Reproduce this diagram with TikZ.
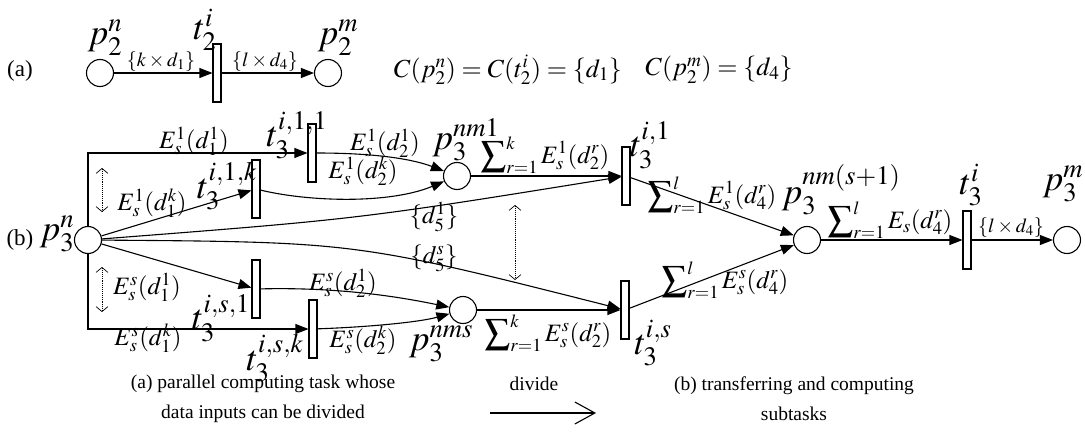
\documentclass[tikz,border=0pt]{standalone}
\usepackage{amsmath}
\usepackage{mathptmx}
\usepackage{fontspec}
\setmainfont{Liberation Serif}
\usetikzlibrary{arrows.meta,positioning,calc}

\begin{document}
\begin{tikzpicture}[x=1pt,y=-1pt,every path/.style={line width=1.1pt},
  place/.style={circle,draw,minimum size=27pt,inner sep=0pt},
  trans/.style={rectangle,draw,minimum width=8pt,minimum height=58pt,inner sep=0pt},
  flow/.style={-{Triangle[length=13pt,width=10pt]}},
  dblarrow/.style={densely dotted,line width=0.7pt,{Straight Barb[length=5pt,width=12pt]}-{Straight Barb[length=5pt,width=12pt]}},
  plabel/.style={font=\fontsize{36}{40}\selectfont,inner sep=0pt},
  elabel/.style={font=\fontsize{25}{28}\selectfont,inner sep=0pt},
  clabel/.style={font=\fontsize{26}{30}\selectfont,inner sep=0pt},
  blabel/.style={font=\fontsize{20}{22}\selectfont,inner sep=0pt},
  partlabel/.style={font=\fontsize{23}{26}\selectfont,inner sep=0pt},
  captext/.style={font=\fontsize{19.5}{30}\selectfont,inner sep=0pt,align=center}]
  \useasboundingbox (0,0) rectangle (1085,436);

  \node[partlabel] (la) at (20,71) {(a)};
  \node[place] (p2n) at (100,73) {};
  \node[place] (p2m) at (328,73) {};
  \foreach \n/\x/\y in {t2/217/73,t311/312/153,t31k/256/189,t3s1/256/289,t3sk/313/329,t31/626/176,t3s/625/310,t3i/967/240}
    \node[trans] (\n) at (\x,\y) {};
  \draw[flow] (p2n) -- (t2);
  \draw[flow] (t2) -- (p2m);
  \node[plabel] (lp2n) at (105,38) {$p_2^n$};
  \node[plabel] (lt2) at (205,30) {$t_2^i$};
  \node[plabel] (lp2m) at (338,38) {$p_2^m$};
  \node[blabel] (lk1) at (161,62) {$\{k\times d_1\}$};
  \node[blabel] (ll1) at (265,62) {$\{l\times d_4\}$};
  \node[clabel] (ca) at (508,70) {$C(p_2^n)=C(t_2^i)=\{d_1\}$};
  \node[clabel] (cb) at (719,70) {$C(p_2^m)=\{d_4\}$};

  \node[partlabel] (lb) at (20,240) {(b)};
  \node[place] (p3n) at (88,240) {};
  \node[place] (p3nm1) at (457,176) {};
  \node[place] (p3nms) at (463,310) {};
  \node[place] (p3nms1) at (807,240) {};
  \node[place] (p3m) at (1067,240) {};
  \node[plabel] (lp3n) at (57,234) {$p_3^n$};

  \draw[flow] (p3n.north) |- (t311);
  \draw[flow] (p3n.south) |- (t3sk);
  \draw[flow] (p3n) -- (t31k);
  \draw[flow] (p3n) -- (t3s1);
  \draw[flow] (p3n) .. controls (359,219) .. (t31);
  \draw[flow] (p3n) .. controls (356,242) .. (t3s);
  \draw[flow] (t311) .. controls (380,153) and (415,160) .. (p3nm1);
  \draw[flow] (t31k) .. controls (310,202) and (390,204) .. (p3nm1);
  \draw[flow] (t3s1) .. controls (340,287) and (400,297) .. (p3nms);
  \draw[flow] (t3sk) .. controls (370,327) and (420,322) .. (p3nms);
  \draw[flow] (p3nm1) -- (t31);
  \draw[flow] (p3nms) -- (t3s);
  \draw[flow] (t31) -- (p3nms1);
  \draw[flow] (t3s) -- (p3nms1);
  \draw[flow] (p3nms1) -- (t3i);
  \draw[flow] (t3i) -- (p3m);
  \foreach \n/\x/\ya/\yb in {u/102/168/212,m/515/205/280,d/102/267/312}
    {\coordinate (\n1) at (\x,\ya); \coordinate (\n2) at (\x,\yb);
     \draw[dblarrow] (\n1) -- (\n2);}

  \node[elabel] (le11) at (194,141) {$E_s^1(d_1^1)$};
  \node[plabel] (lt311) at (297,135) {$t_3^{i,1,1}$};
  \node[elabel] (le1k) at (152,203) {$E_s^1(d_1^k)$};
  \node[plabel] (lt31k) at (227,186) {$t_3^{i,1,k}$};
  \node[elabel] (le21) at (385,143) {$E_s^1(d_2^1)$};
  \node[elabel] (le2k) at (363,171) {$E_s^1(d_2^k)$};
  \node[plabel] (lp3nm1) at (466,140) {$p_3^{nm1}$};
  \node[elabel] (lsum1) at (545,155) {$\displaystyle\sum\nolimits_{r=1}^k E_s^1(d_2^r)$};
  \node[plabel] (lt31) at (650,145) {$t_3^{i,1}$};
  \node[elabel] (ld51) at (434,217) {$\{d_5^1\}$};
  \node[elabel] (ld5s) at (434,258) {$\{d_5^s\}$};
  \node[elabel] (les1) at (147,287) {$E_s^s(d_1^1)$};
  \node[plabel] (lt3s1) at (221,318) {$t_3^{i,s,1}$};
  \node[elabel] (lesk) at (148,338) {$E_s^s(d_1^k)$};
  \node[plabel] (lt3sk) at (275,358) {$t_3^{i,s,k}$};
  \node[elabel] (les21) at (343,283) {$E_s^s(d_2^1)$};
  \node[elabel] (les2k) at (363,340) {$E_s^s(d_2^k)$};
  \node[plabel] (lp3nms) at (441,344) {$p_3^{nms}$};
  \node[elabel] (lsums) at (548,333) {$\displaystyle\sum\nolimits_{r=1}^k E_s^s(d_2^r)$};
  \node[plabel] (lt3s) at (653,343) {$t_3^{i,s}$};
  \node[elabel] (lsl1) at (712,195) {$\displaystyle\sum\nolimits_{r=1}^l E_s^1(d_4^r)$};
  \node[elabel] (lsls) at (725,280) {$\displaystyle\sum\nolimits_{r=1}^l E_s^s(d_4^r)$};
  \node[plabel] (lp3nms1) at (841,190) {$p_3^{nm(s+1)}$};
  \node[elabel] (lsum) at (890,220) {$\displaystyle\sum\nolimits_{r=1}^l E_s(d_4^r)$};
  \node[plabel] (lt3i) at (971,185) {$t_3^i$};
  \node[blabel] (ll4) at (1011,228) {$\{l\times d_4\}$};
  \node[plabel] (lp3m) at (1063,184) {$p_3^m$};

  \node[captext] (capa) at (263,399) {(a) parallel computing task whose\\data inputs can be divided};
  \node[captext] (div) at (534,384) {divide};
  \coordinate (d1) at (490,413);
  \coordinate (d2) at (596,413);
  \draw[-{Straight Barb[length=20pt,width=22pt]}] (d1) -- (d2);
  \node[captext] (capb) at (794,399) {(b) transferring and computing\\subtasks};
\end{tikzpicture}
\end{document}
